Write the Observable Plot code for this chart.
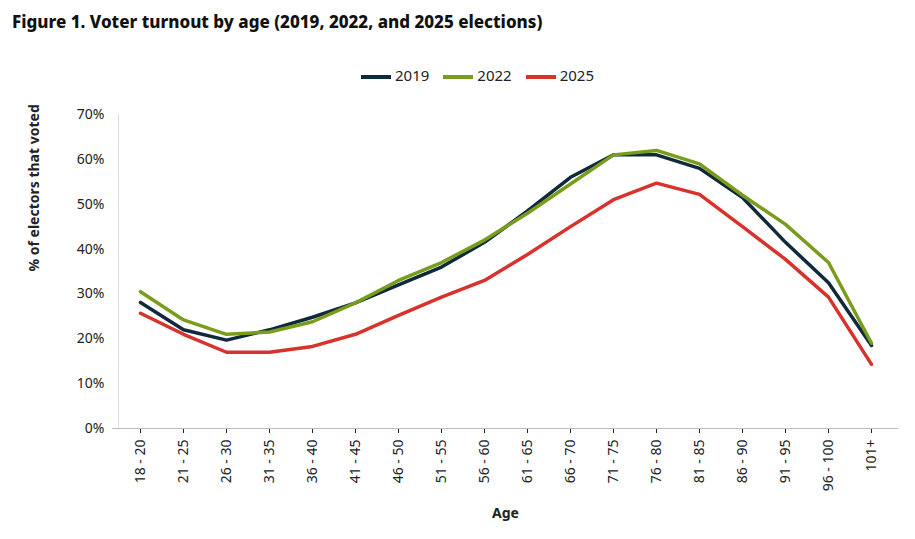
<!DOCTYPE html>
<html><head><meta charset="utf-8">
<script src="https://cdn.jsdelivr.net/npm/d3@7"></script>
<script src="https://cdn.jsdelivr.net/npm/@observablehq/plot@0.6"></script>
<style>
body{margin:0;background:#fff;font-family:"Noto Sans",sans-serif;}
#title{font-weight:800;font-size:17px;padding:10px 0 0 12px;height:30px;color:#111;}
#legend{display:flex;justify-content:center;gap:14px;height:48px;align-items:center;font-size:15px;color:#222;padding-left:40px;box-sizing:border-box;padding-top:22px}
.sw{display:inline-block;width:30px;height:4px;vertical-align:middle;margin-right:4px}
</style></head><body>
<div id="title">Figure 1. Voter turnout by age (2019, 2022, and 2025 elections)</div>
<div id="legend"></div>
<div id="chart"></div>
<script>
const ages=["18 - 20","21 - 25","26 - 30","31 - 35","36 - 40","41 - 45","46 - 50","51 - 55","56 - 60","61 - 65","66 - 70","71 - 75","76 - 80","81 - 85","86 - 90","91 - 95","96 - 100","101+"];
const v2019=[28.1,22,19.7,22,24.8,28,32,36,41.5,48.5,56,61,61,58,51.5,41.5,32.5,18.5];
const v2022=[30.5,24.2,21,21.5,23.8,28,33,37,42,48,54.5,61,62,59,52,45.5,37,19];
const v2025=[25.7,21,17,17,18.3,21,25.2,29.3,33,38.8,45,51,54.7,52.2,45,37.7,29.3,14.3];
const series=["2019","2022","2025"];
const colors=["#0e2a3b","#7a9c1c","#d8322c"];
const data=[];
[v2019,v2022,v2025].forEach((vs,i)=>vs.forEach((v,j)=>data.push({age:ages[j],v,s:series[i]})));
document.getElementById("legend").innerHTML=series.map((s,i)=>`<span><span class="sw" style="background:${colors[i]}"></span>${s}</span>`).join("");
const p=Plot.plot({
  width:915,height:451,marginTop:26,marginLeft:112,marginRight:17,marginBottom:111,
  style:{fontFamily:"Noto Sans, sans-serif",fontSize:"14px",color:"#222"},
  x:{type:"point",domain:ages,padding:0.5,label:null},
  y:{domain:[0,70],ticks:[0,10,20,30,40,50,60,70],label:null},
  color:{domain:series,range:colors},
  marks:[
    Plot.axisY({ticks:[0,10,20,30,40,50,60,70],tickFormat:d=>d+"%",tickSize:0,tickPadding:8,fontSize:14}),
    Plot.axisX({tickRotate:-90,tickSize:5,tickPadding:6,fontSize:14}),
    Plot.ruleY([0],{stroke:"#bbb"}),
    Plot.ruleX([ages[0]],{stroke:"#ddd",dx:-22}),
    Plot.line(data,{x:"age",y:"v",stroke:"s",z:"s",strokeWidth:3.5}),
    Plot.text(["% of electors that voted"],{frameAnchor:"left",dx:-78,rotate:-90,fontWeight:"bold",fontSize:14}),
    Plot.text(["Age"],{frameAnchor:"bottom",dy:89,fontWeight:"bold",fontSize:14})
  ]
});
document.getElementById("chart").appendChild(p);
</script></body></html>
